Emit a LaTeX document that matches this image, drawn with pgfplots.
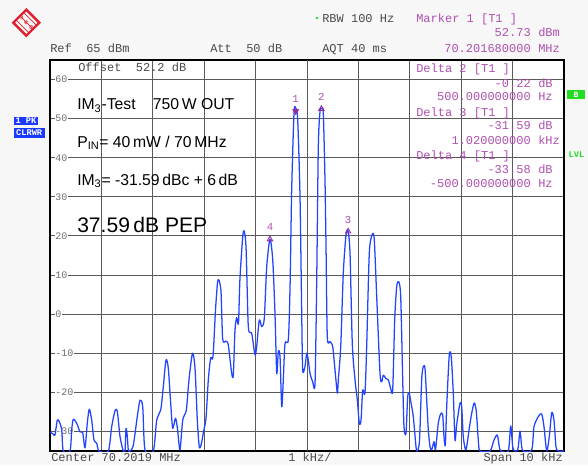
\documentclass[border=0pt]{standalone}
\usepackage{fontspec}
\setmainfont{Liberation Sans}
\newfontfamily\mono{Liberation Mono}
\usepackage{pgfplots}
\pgfplotsset{compat=1.18}
\definecolor{bg}{HTML}{F7F7F7}
\definecolor{gridc}{HTML}{5A5A5A}
\definecolor{trace}{HTML}{2244FF}
\definecolor{mk}{HTML}{B050B0}
\definecolor{mkd}{HTML}{9A2A9A}
\definecolor{hdr}{HTML}{4A4A4A}
\definecolor{tlab}{HTML}{707070}
\definecolor{lblue}{HTML}{1A3AFF}
\definecolor{lgreen}{HTML}{22DD22}
\definecolor{rsred}{HTML}{E02030}
\newcommand{\hm}{\mono\fontsize{9pt}{10pt}\selectfont}
\begin{document}
\begin{tikzpicture}[x=0.75pt,y=0.75pt]
\fill[bg] (0,0) rectangle (588,465);
\useasboundingbox (0,0) rectangle (588,465);
\begin{axis}[
  at={(37.5pt,10.5pt)}, anchor=south west,
  scale only axis, width=385.5pt, height=293.25pt,
  axis background/.style={fill=white},
  xmin=-5, xmax=5, ymin=-35, ymax=65,
  xtick={-4,-3,-2,-1,1,2,3,4}, xticklabels={},
  extra x ticks={0}, extra x tick labels={},
  extra x tick style={grid style={draw=black, line width=1.3pt}},
  ytick={-30,-20,...,60},
  yticklabels={-30,-20,-10,0,10,20,30,40,50,60},
  grid=major, major grid style={draw=gridc, line width=0.75pt},
  major tick length=0pt,
  axis line style={line width=1.3pt, black},
  yticklabel style={anchor=west, xshift=3.4pt, font=\mono\fontsize{7.5pt}{8pt}\selectfont, text=tlab, fill=white, inner sep=0.4pt},
]
\addplot[trace, line width=0.95pt, line join=round, smooth, tension=0.45] coordinates {
(-5.00,-30.1) (-4.936,-30.7) (-4.903,-30.9) (-4.858,-27.1) (-4.819,-27.5) (-4.772,-29.6) (-4.741,-35) (-4.611,-35) (-4.578,-29.6) (-4.547,-26.9) (-4.481,-27.9) (-4.416,-30.1) (-4.364,-30.3) (-4.319,-34.2) (-4.274,-27.8) (-4.235,-24.3) (-4.189,-27.1) (-4.144,-32.2) (-4.091,-33.0) (-4.047,-35) (-3.866,-35) (-3.800,-28.8) (-3.735,-24.7) (-3.690,-24.9) (-3.638,-31.3) (-3.574,-35) (-3.541,-35) (-3.521,-29.2) (-3.496,-31.3) (-3.477,-34.7) (-3.444,-35) (-3.379,-33.5) (-3.302,-26.2) (-3.249,-22.0) (-3.196,-23.7) (-3.152,-34.7) (-2.990,-35) (-2.924,-27.1) (-2.846,-24.5) (-2.796,-18.6) (-2.743,-11.7) (-2.698,-13.9) (-2.652,-22.8) (-2.613,-29.2) (-2.558,-26.6) (-2.519,-29.4) (-2.471,-34.7) (-2.418,-27.1) (-2.348,-24.5) (-2.296,-16.8) (-2.228,-10.0) (-2.179,-13.8) (-2.134,-27.1) (-2.095,-34.0) (-2.053,-33.0) (-2.014,-30.1) (-1.965,-26.6) (-1.920,-16.8) (-1.874,-11.2) (-1.829,-10.9) (-1.780,1.1) (-1.741,8.0) (-1.712,8.7) (-1.673,5.7) (-1.640,-6.4) (-1.576,-6.9) (-1.531,-7.9) (-1.465,-15.1) (-1.434,-15.6) (-1.401,-4.1) (-1.368,-0.9) (-1.333,-2.3) (-1.304,9.2) (-1.239,21.1) (-1.187,17.3) (-1.142,-3.2) (-1.076,-4.9) (-1.012,-10.4) (-0.979,-8.3) (-0.928,-1.5) (-0.881,-3.2) (-0.831,-1.1) (-0.784,12.1) (-0.720,19.15) (-0.667,13.9) (-0.623,0.2) (-0.589,-15.1) (-0.558,-9.6) (-0.525,-10.9) (-0.492,-23.7) (-0.461,-16.8) (-0.428,-7.5) (-0.364,-6.6) (-0.331,6.2) (-0.298,31.8) (-0.253,51.4) (-0.220,52.73) (-0.181,49.7) (-0.136,30.0) (-0.103,0.2) (-0.084,-14.3) (-0.039,-13.4) (-0.006,-10.0) (0.025,-11.7) (0.058,-15.1) (0.111,-17.3) (0.156,-17.7) (0.189,8.7) (0.220,42.8) (0.253,51.8) (0.280,52.51) (0.317,51.4) (0.350,34.3) (0.370,17.3) (0.395,-5.8) (0.447,-7.0) (0.500,-8.3) (0.545,-14.3) (0.590,-20.2) (0.609,-16.8) (0.656,-8.3) (0.706,10.5) (0.759,20.2) (0.800,21.14) (0.837,15.6) (0.881,-7.5) (0.934,-16.8) (0.979,-22.0) (1.018,-27.9) (1.051,-27.1) (1.084,-19.4) (1.128,-20.2) (1.161,-8.3) (1.212,15.6) (1.270,20.4) (1.309,19.0) (1.356,4.5) (1.420,-15.1) (1.453,-17.3) (1.484,-15.6) (1.531,-16.4) (1.582,-16.8) (1.628,-19.0) (1.667,-19.4) (1.706,-1.5) (1.745,7.0) (1.784,8.3) (1.823,4.5) (1.862,-16.8) (1.887,-28.8) (1.926,-30.5) (1.959,-21.1) (1.990,-20.2) (2.014,-22.0) (2.068,-26.2) (2.121,-34.0) (2.146,-35) (2.189,-32.2) (2.231,-16.8) (2.263,-13.4) (2.296,-13.9) (2.329,-22.0) (2.360,-29.6) (2.393,-33.9) (2.426,-34.7) (2.471,-32.6) (2.500,-34.7) (2.554,-27.9) (2.601,-25.5) (2.640,-25.8) (2.665,-31.3) (2.691,-33.5) (2.718,-23.7) (2.768,-10.4) (2.807,-11.0) (2.846,-20.2) (2.879,-32.2) (2.912,-28.3) (2.977,-22.7) (3.010,-23.7) (3.041,-31.4) (3.093,-34.7) (3.161,-28.8) (3.204,-25.4) (3.253,-22.7) (3.294,-24.9) (3.337,-33.0) (3.366,-35) (3.560,-35) (3.638,-32.2) (3.702,-30.9) (3.741,-33.9) (3.774,-35) (3.916,-35) (3.963,-28.6) (4.002,-33.9) (4.037,-35) (4.086,-35) (4.111,-33.9) (4.144,-29.9) (4.177,-33.9) (4.208,-35) (4.372,-34.7) (4.416,-28.8) (4.500,-26.2) (4.566,-25.5) (4.611,-28.8) (4.663,-35) (4.714,-31.3) (4.761,-25.2) (4.805,-27.1) (4.844,-33.9) (4.889,-35) (5.000,-35)
};
% marker 1 (filled, pointing down)
\addplot[only marks, mark=triangle*, mark size=2.6pt,
  mark options={rotate=180, fill=mkd, draw=mkd, yshift=2.4pt},
  point meta=explicit symbolic, nodes near coords,
  nodes near coords style={anchor=center, yshift=9.5pt, text=mk, font=\mono\fontsize{8pt}{9pt}\selectfont}]
  coordinates {(-0.22,52.73)[1]};
% delta markers
\addplot[only marks, mark=triangle, mark size=2.3pt,
  mark options={draw=mkd, line width=0.7pt},
  point meta=explicit symbolic, nodes near coords,
  nodes near coords style={anchor=center, yshift=9pt, text=mk, font=\mono\fontsize{8pt}{9pt}\selectfont}]
  coordinates {(0.28,52.51)[2] (0.80,21.14)[3] (-0.72,19.15)[4]};
\end{axis}
% R&S logo
\begin{scope}[shift={(26.3,442.3)}]
  \draw[rsred, line width=1.8pt] (0,13) -- (13,0) -- (0,-13) -- (-13,0) -- cycle;
  \draw[rsred, line width=0.5pt] (-6,6.5) -- (6.5,-6) (-2.5,10) -- (10,-2.5) (-10,2.5) -- (2.5,-10);
  \node[rsred, rotate=-45, font=\fontsize{4pt}{4pt}\selectfont\bfseries, inner sep=0] at (-5,5) {R};
  \node[rsred, rotate=-45, font=\fontsize{4pt}{4pt}\selectfont\bfseries, inner sep=0] at (0,0) {\&};
  \node[rsred, rotate=-45, font=\fontsize{4pt}{4pt}\selectfont\bfseries, inner sep=0] at (5,-5) {S};
\end{scope}
% header
\node[anchor=base west, inner sep=0, text=hdr, font=\hm] at (50,412) {Ref\ \ 65 dBm};
\node[anchor=base west, inner sep=0, text=hdr, font=\hm] at (210,412) {Att\ \ 50 dB};
\node[anchor=base west, inner sep=0, text=hdr, font=\hm] at (322,412) {AQT 40 ms};
\node[anchor=base west, inner sep=0, text=hdr, font=\hm] at (322,442) {RBW 100 Hz};
\fill[lgreen] (317,447) circle (1.4);
\node[anchor=base west, inner sep=0, text=mk, font=\hm] at (416,442) {Marker 1 [T1 ]};
\node[anchor=base east, inner sep=0, text=mk, font=\hm] at (531,428) {52.73};
\node[anchor=base west, inner sep=0, text=mk, font=\hm] at (538,428) {dBm};
\node[anchor=base east, inner sep=0, text=mk, font=\hm] at (531,412) {70.201680000};
\node[anchor=base west, inner sep=0, text=mk, font=\hm] at (538,412) {MHz};
% inside frame
\node[anchor=base west, inner sep=0, text=hdr, font=\hm] at (78,393) {Offset\ \ 52.2 dB};
\node[anchor=base west, inner sep=0, text=mk, font=\hm] at (416,392.5) {Delta 2 [T1 ]};
\node[anchor=base east, inner sep=0, text=mk, font=\hm] at (531,378) {-0.22};
\node[anchor=base west, inner sep=0, text=mk, font=\hm] at (538,378) {dB};
\node[anchor=base east, inner sep=0, text=mk, font=\hm] at (531,364) {500.000000000};
\node[anchor=base west, inner sep=0, text=mk, font=\hm] at (538,364) {Hz};
\node[anchor=base west, inner sep=0, text=mk, font=\hm] at (416,349) {Delta 3 [T1 ]};
\node[anchor=base east, inner sep=0, text=mk, font=\hm] at (531,335) {-31.59};
\node[anchor=base west, inner sep=0, text=mk, font=\hm] at (538,335) {dB};
\node[anchor=base east, inner sep=0, text=mk, font=\hm] at (531,320.5) {1.020000000};
\node[anchor=base west, inner sep=0, text=mk, font=\hm] at (538,320.5) {kHz};
\node[anchor=base west, inner sep=0, text=mk, font=\hm] at (416,306) {Delta 4 [T1 ]};
\node[anchor=base east, inner sep=0, text=mk, font=\hm] at (531,291.5) {-33.58};
\node[anchor=base west, inner sep=0, text=mk, font=\hm] at (538,291.5) {dB};
\node[anchor=base east, inner sep=0, text=mk, font=\hm] at (531,277.5) {-500.000000000};
\node[anchor=base west, inner sep=0, text=mk, font=\hm] at (538,277.5) {Hz};
% annotation
\node[anchor=base west, inner sep=0, font=\fontsize{11.8pt}{13pt}\selectfont] at (77,355) {IM\textsubscript{3}-Test};
\node[anchor=base west, inner sep=0, font=\fontsize{11.8pt}{13pt}\selectfont] at (152.7,355) {750\,W OUT};
\node[anchor=base west, inner sep=0, font=\fontsize{11.8pt}{13pt}\selectfont] at (77,317.7) {P\textsubscript{IN}= 40\,mW / 70\,MHz};
\node[anchor=base west, inner sep=0, font=\fontsize{11.8pt}{13pt}\selectfont] at (77,280) {IM\textsubscript{3}= -31.59\,dBc + 6\,dB};
\node[anchor=base west, inner sep=0, font=\fontsize{15.8pt}{18pt}\selectfont] at (77,232.7) {37.59\,dB PEP};
% side labels
\fill[lblue] (14,340.5) rectangle (38,348);
\node[text=white, font=\mono\fontsize{6.5pt}{7pt}\selectfont\bfseries, inner sep=0] at (26,344.2) {1 PK};
\fill[lblue] (14,327) rectangle (44.5,337);
\node[text=white, font=\mono\fontsize{6.5pt}{7pt}\selectfont\bfseries, inner sep=0] at (29.2,332) {CLRWR};
\fill[lgreen] (567,365.7) rectangle (585,375);
\node[text=white, font=\mono\fontsize{6pt}{7pt}\selectfont\bfseries, inner sep=0] at (576,370.3) {B};
\node[text=lgreen, font=\mono\fontsize{6.5pt}{7pt}\selectfont\bfseries, inner sep=0] at (576.5,310) {LVL};
% footer
\node[anchor=base west, inner sep=0, text=hdr, font=\hm] at (51,3.5) {Center 70.2019 MHz};
\node[anchor=base west, inner sep=0, text=hdr, font=\hm] at (288,3.5) {1 kHz/};
\node[anchor=base east, inner sep=0, text=hdr, font=\hm] at (563,3.5) {Span 10 kHz};
\end{tikzpicture}
\end{document}
